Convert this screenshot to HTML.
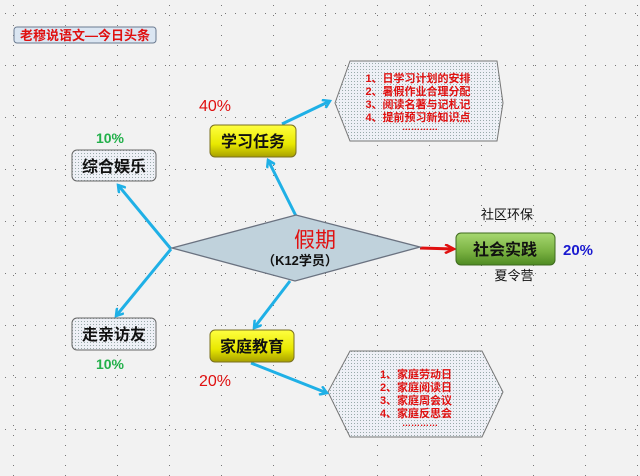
<!DOCTYPE html>
<html><head><meta charset="utf-8"><style>
html,body{margin:0;padding:0;background:#f2f2f2}
svg{display:block}
text{font-family:"Liberation Sans","Noto Sans CJK SC",sans-serif}
</style></head><body>
<svg width="640" height="476" viewBox="0 0 640 476" xmlns="http://www.w3.org/2000/svg">
<defs>
<pattern id="grid" width="52" height="10" patternUnits="userSpaceOnUse" x="13" y="5">
<rect x="0" y="0" width="1" height="1" fill="#777"/>
</pattern>
<pattern id="grid2" width="10" height="52" patternUnits="userSpaceOnUse" x="5" y="13">
<rect x="0" y="0" width="1" height="1" fill="#777"/>
</pattern>
<pattern id="dots" width="3" height="3" patternUnits="userSpaceOnUse">
<rect width="3" height="3" fill="#eef0f6"/>
<rect width="1" height="1" fill="#9aa"/>
</pattern>
<linearGradient id="yel" x1="0" y1="0" x2="0" y2="1">
<stop offset="0" stop-color="#ffff40"/><stop offset="0.6" stop-color="#e8e800"/><stop offset="1" stop-color="#a8a000"/>
</linearGradient>
<linearGradient id="grn" x1="0" y1="0" x2="0" y2="1">
<stop offset="0" stop-color="#a6d870"/><stop offset="0.6" stop-color="#78b040"/><stop offset="1" stop-color="#4e8a22"/>
</linearGradient>
<marker id="ab" markerWidth="10" markerHeight="10" refX="8" refY="5" orient="auto" markerUnits="userSpaceOnUse">
<polyline points="1,0.5 8,5 1,9.5" fill="none" stroke="#1fb0e6" stroke-width="2.5"/>
</marker>
<marker id="ar" markerWidth="12" markerHeight="10" refX="10" refY="5" orient="auto" markerUnits="userSpaceOnUse">
<polyline points="1,0.5 10,5 1,9.5" fill="none" stroke="#e01010" stroke-width="2.5"/>
</marker>
</defs>
<rect width="640" height="476" fill="#f2f2f2"/>
<rect width="640" height="476" fill="url(#grid)"/>
<rect width="640" height="476" fill="url(#grid2)"/>

<rect x="14" y="27" width="142" height="16" rx="3" fill="#dbe6f2" stroke="#6a7a90"/>
<text x="85" y="40" font-size="13" fill="#e01010" text-anchor="middle" font-weight="bold">老穆说语文—今日头条</text>

<polygon points="335,103 350,61 497,61 503,103 497,141 350,141" fill="url(#dots)" stroke="#777" stroke-width="1"/>
<g font-size="11" fill="#e01010" text-anchor="middle" font-weight="bold">
<text x="418" y="82">1、日学习计划的安排</text>
<text x="418" y="95">2、暑假作业合理分配</text>
<text x="418" y="108">3、阅读名著与记札记</text>
<text x="418" y="121">4、提前预习新知识点</text>
<text x="420" y="130" font-size="9">…………</text>
</g>
<polygon points="328,392 350,351 482,351 503,392 482,437 350,437" fill="url(#dots)" stroke="#777" stroke-width="1"/>
<g font-size="11" fill="#e01010" text-anchor="middle" font-weight="bold">
<text x="416" y="378">1、家庭劳动日</text>
<text x="416" y="391">2、家庭阅读日</text>
<text x="416" y="404">3、家庭周会议</text>
<text x="416" y="417">4、家庭反思会</text>
<text x="420" y="426" font-size="9">…………</text>
</g>

<g stroke="#1fb0e6" stroke-width="3" fill="none">
<line x1="171" y1="249" x2="118" y2="185" marker-end="url(#ab)"/>
<line x1="171" y1="249" x2="116" y2="316" marker-end="url(#ab)"/>
<line x1="296" y1="216" x2="268" y2="160" marker-end="url(#ab)"/>
<line x1="282" y1="124" x2="330" y2="101" marker-end="url(#ab)"/>
<line x1="290" y1="281" x2="254" y2="328" marker-end="url(#ab)"/>
<line x1="251" y1="363" x2="327" y2="393" marker-end="url(#ab)"/>
</g>
<line x1="420" y1="248" x2="454" y2="249" stroke="#e01010" stroke-width="3" marker-end="url(#ar)"/>

<polygon points="172,248 296,215 420,247 295,281" fill="#c0d2dc" stroke="#6a7280" stroke-width="1.3"/>
<text x="315" y="247" font-size="21" fill="#e01010" text-anchor="middle" font-family="Liberation Serif,Noto Serif CJK SC,serif">假期</text>
<text x="300" y="265" font-size="13" fill="#111" text-anchor="middle" font-weight="bold">（K12学员）</text>

<rect x="210" y="125" width="86" height="32" rx="5" fill="url(#yel)" stroke="#7a7020"/>
<text x="253" y="147" font-size="16" font-weight="bold" text-anchor="middle" fill="#111">学习任务</text>
<rect x="210" y="330" width="84" height="32" rx="5" fill="url(#yel)" stroke="#7a7020"/>
<text x="252" y="352" font-size="16" font-weight="bold" text-anchor="middle" fill="#111">家庭教育</text>
<rect x="72" y="150" width="84" height="31" rx="5" fill="url(#dots)" stroke="#666"/>
<text x="114" y="172" font-size="16" font-weight="bold" text-anchor="middle" fill="#111">综合娱乐</text>
<rect x="72" y="318" width="84" height="32" rx="5" fill="url(#dots)" stroke="#666"/>
<text x="114" y="340" font-size="16" font-weight="bold" text-anchor="middle" fill="#111">走亲访友</text>
<rect x="456" y="233" width="99" height="32" rx="5" fill="url(#grn)" stroke="#3e6a1e"/>
<text x="505" y="255" font-size="16" font-weight="bold" text-anchor="middle" fill="#111">社会实践</text>

<text x="215" y="111" font-size="16" fill="#e01010" text-anchor="middle">40%</text>
<text x="110" y="143" font-size="14" fill="#22b04a" font-weight="bold" text-anchor="middle">10%</text>
<text x="110" y="369" font-size="14" fill="#22b04a" font-weight="bold" text-anchor="middle">10%</text>
<text x="215" y="386" font-size="16" fill="#e01010" text-anchor="middle">20%</text>
<text x="578" y="255" font-size="15" fill="#1a1ad0" font-weight="bold" text-anchor="middle">20%</text>
<text x="507" y="219" font-size="13" fill="#111" text-anchor="middle">社区环保</text>
<text x="514" y="280" font-size="13" fill="#111" text-anchor="middle">夏令营</text>
</svg>
</body></html>
